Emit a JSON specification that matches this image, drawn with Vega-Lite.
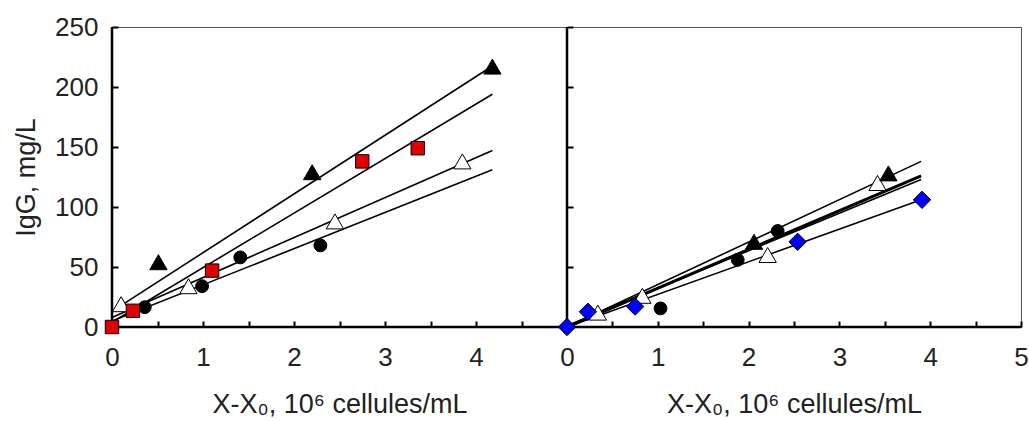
{
  "$schema": "https://vega.github.io/schema/vega-lite/v6.json",
  "background": "white",
  "padding": {"left": 12, "top": 13, "right": 0, "bottom": 0},
  "spacing": 0,
  "bounds": "flush",
  "config": {
    "view": {"stroke": "#555", "strokeWidth": 1},
    "font": "Liberation Sans",
    "axis": {
      "labelFont": "Liberation Sans", "titleFont": "Liberation Sans",
      "labelFontSize": 26, "titleFontSize": 27, "titleFontWeight": "normal",
      "labelColor": "#222", "titleColor": "#222",
      "tickColor": "black", "tickWidth": 2, "grid": false,
      "labelFlush": false, "labelOverlap": false
    }
  },
  "datasets": {
    "zero": [{"v": 0}],
    "ptsA": [
      {"series": "tri_f", "x": 0.51, "y": 54},
      {"series": "tri_f", "x": 2.2, "y": 129},
      {"series": "tri_f", "x": 4.18, "y": 217},
      {"series": "tri_o", "x": 0.1, "y": 19},
      {"series": "tri_o", "x": 0.84, "y": 34},
      {"series": "tri_o", "x": 2.45, "y": 88},
      {"series": "tri_o", "x": 3.85, "y": 138},
      {"series": "circle", "x": 0.36, "y": 16.5},
      {"series": "circle", "x": 0.99, "y": 34},
      {"series": "circle", "x": 1.41, "y": 58},
      {"series": "circle", "x": 2.29, "y": 68},
      {"series": "square", "x": 0, "y": 0},
      {"series": "square", "x": 0.23, "y": 13.5},
      {"series": "square", "x": 1.1, "y": 47},
      {"series": "square", "x": 2.75, "y": 138},
      {"series": "square", "x": 3.36, "y": 149}
    ],
    "fitsA": [
      {"series": "tri_f", "x": 0, "y": 13},
      {"series": "tri_f", "x": 4.18, "y": 217.5},
      {"series": "square", "x": 0, "y": 4},
      {"series": "square", "x": 4.18, "y": 194},
      {"series": "tri_o", "x": 0, "y": 8},
      {"series": "tri_o", "x": 4.18, "y": 147},
      {"series": "circle", "x": 0, "y": 5},
      {"series": "circle", "x": 4.18, "y": 131}
    ],
    "ptsB": [
      {"series": "tri_o", "x": 0.34, "y": 12},
      {"series": "tri_o", "x": 0.83, "y": 26},
      {"series": "tri_o", "x": 2.21, "y": 60},
      {"series": "tri_o", "x": 3.42, "y": 120},
      {"series": "tri_f", "x": 2.06, "y": 71},
      {"series": "tri_f", "x": 3.54, "y": 128},
      {"series": "circle", "x": 1.03, "y": 15.5},
      {"series": "circle", "x": 1.88, "y": 56},
      {"series": "circle", "x": 2.32, "y": 80},
      {"series": "diamond", "x": 0, "y": 0},
      {"series": "diamond", "x": 0.23, "y": 12.7},
      {"series": "diamond", "x": 0.75, "y": 17},
      {"series": "diamond", "x": 2.54, "y": 71},
      {"series": "diamond", "x": 3.91, "y": 106}
    ],
    "fitsB": [
      {"series": "tri_f", "x": 0, "y": 0},
      {"series": "tri_f", "x": 3.9, "y": 138},
      {"series": "circle", "x": 0, "y": 0},
      {"series": "circle", "x": 3.9, "y": 126},
      {"series": "tri_o", "x": 0, "y": 1},
      {"series": "tri_o", "x": 3.9, "y": 123},
      {"series": "diamond", "x": 0, "y": 0},
      {"series": "diamond", "x": 3.9, "y": 106}
    ]
  },
  "hconcat": [
    {
      "width": 455,
      "height": 300,
      "layer": [
        {
          "data": {"name": "fitsA"},
          "mark": {"type": "line", "color": "black", "strokeWidth": 1.6},
          "encoding": {
            "x": {"field": "x", "type": "quantitative", "scale": {"domain": [0, 5], "nice": false},
              "axis": {
                "title": "X-X₀, 10⁶ cellules/mL",
                "values": [0, 0.5, 1, 1.5, 2, 2.5, 3, 3.5, 4, 4.5],
                "labelExpr": "datum.value % 1 === 0 ? format(datum.value, 'd') : ''",
                "domain": false, "tickSize": 6, "offset": -6,
                "labelPadding": 17, "titlePadding": 21
              }
            },
            "y": {"field": "y", "type": "quantitative", "scale": {"domain": [0, 250], "nice": false},
              "axis": {
                "title": "IgG, mg/L",
                "values": [0, 25, 50, 75, 100, 125, 150, 175, 200, 225, 250],
                "labelExpr": "datum.value % 50 === 0 ? format(datum.value, 'd') : ''",
                "domain": false, "tickSize": 6, "offset": -6,
                "labelPadding": 14, "titlePadding": 14
              }
            },
            "detail": {"field": "series", "type": "nominal"}
          }
        },
        {
          "data": {"name": "zero"},
          "mark": {"type": "rule", "color": "black", "strokeWidth": 2.5},
          "encoding": {"x": {"field": "v", "type": "quantitative"}}
        },
        {
          "data": {"name": "zero"},
          "mark": {"type": "rule", "color": "black", "strokeWidth": 2.5},
          "encoding": {"y": {"field": "v", "type": "quantitative"}}
        },
        {
          "data": {"name": "ptsA"},
          "mark": {"type": "point", "filled": true, "stroke": "black", "strokeWidth": 1, "opacity": 1},
          "encoding": {
            "x": {"field": "x", "type": "quantitative"},
            "y": {"field": "y", "type": "quantitative"},
            "shape": {"field": "series", "type": "nominal", "legend": null,
              "scale": {"domain": ["tri_f", "tri_o", "circle", "square", "diamond"], "range": ["triangle-up", "triangle-up", "circle", "square", "diamond"]}},
            "fill": {"field": "series", "type": "nominal", "legend": null,
              "scale": {"domain": ["tri_f", "tri_o", "circle", "square", "diamond"], "range": ["black", "white", "black", "#e00000", "#0000ff"]}},
            "size": {"field": "series", "type": "nominal", "legend": null,
              "scale": {"type": "ordinal", "domain": ["tri_f", "tri_o", "circle", "square", "diamond"], "range": [300, 300, 165, 180, 300]}}
          }
        }
      ]
    },
    {
      "width": 454,
      "height": 300,
      "layer": [
        {
          "data": {"name": "fitsB"},
          "mark": {"type": "line", "color": "black"},
          "encoding": {
            "x": {"field": "x", "type": "quantitative", "scale": {"domain": [0, 5], "nice": false},
              "axis": {
                "title": "X-X₀, 10⁶ cellules/mL",
                "values": [0, 0.5, 1, 1.5, 2, 2.5, 3, 3.5, 4, 4.5, 5],
                "labelExpr": "datum.value % 1 === 0 ? format(datum.value, 'd') : ''",
                "domain": false, "tickSize": 6, "offset": -6,
                "labelPadding": 17, "titlePadding": 21
              }
            },
            "y": {"field": "y", "type": "quantitative", "scale": {"domain": [0, 250], "nice": false},
              "axis": {
                "title": null, "labels": false, "domain": false,
                "values": [0, 25, 50, 75, 100, 125, 150, 175, 200, 225, 250],
                "tickSize": 6, "offset": -6
              }
            },
            "strokeWidth": {"field": "series", "type": "nominal", "legend": null,
              "scale": {"type": "ordinal", "domain": ["tri_f", "circle", "tri_o", "diamond"], "range": [1.6, 3, 1.6, 1.6]}}
          }
        },
        {
          "data": {"name": "zero"},
          "mark": {"type": "rule", "color": "black", "strokeWidth": 2.5},
          "encoding": {"x": {"field": "v", "type": "quantitative"}}
        },
        {
          "data": {"name": "zero"},
          "mark": {"type": "rule", "color": "black", "strokeWidth": 2.5},
          "encoding": {"y": {"field": "v", "type": "quantitative"}}
        },
        {
          "data": {"name": "ptsB"},
          "mark": {"type": "point", "filled": true, "stroke": "black", "strokeWidth": 1, "opacity": 1},
          "encoding": {
            "x": {"field": "x", "type": "quantitative"},
            "y": {"field": "y", "type": "quantitative"},
            "shape": {"field": "series", "type": "nominal", "legend": null,
              "scale": {"domain": ["tri_f", "tri_o", "circle", "square", "diamond"], "range": ["triangle-up", "triangle-up", "circle", "square", "diamond"]}},
            "fill": {"field": "series", "type": "nominal", "legend": null,
              "scale": {"domain": ["tri_f", "tri_o", "circle", "square", "diamond"], "range": ["black", "white", "black", "#e00000", "#0000ff"]}},
            "size": {"field": "series", "type": "nominal", "legend": null,
              "scale": {"type": "ordinal", "domain": ["tri_f", "tri_o", "circle", "square", "diamond"], "range": [300, 300, 165, 180, 300]}}
          }
        }
      ]
    }
  ]
}
